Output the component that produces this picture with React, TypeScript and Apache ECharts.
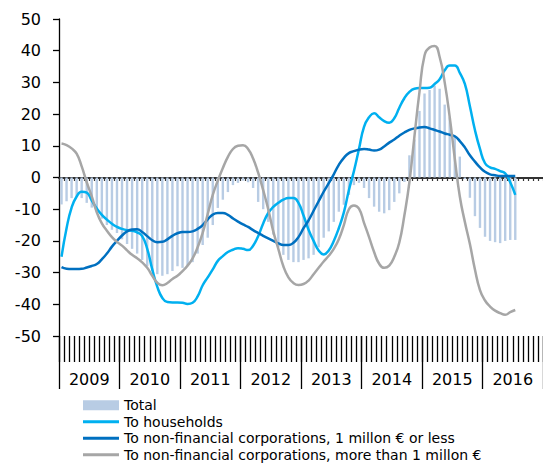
import React, { useEffect, useRef } from "react";
import * as echarts from "echarts";

const years = ["2009", "2010", "2011", "2012", "2013", "2014", "2015", "2016"];
const monthNames = ["Jan", "Feb", "Mar", "Apr", "May", "Jun", "Jul", "Aug", "Sep", "Oct", "Nov", "Dec"];
const months = years.flatMap((y) => monthNames.map((m) => `${m} ${y}`));

const total = [
  -8.5, -7.5, -6.5, -6, -6.5, -8, -9.5, -11, -13, -15, -16.5, -17.5,
  -19.5, -21, -22.5, -24, -26, -28, -29.5, -30.5, -31, -30.5, -29.5, -28,
  -28.5, -27.6, -26.7, -24, -21.3, -19, -15, -9.6, -7, -4.6, -2.4, -1.7,
  -1, -1.5, -3.3, -7.7, -10, -14, -18, -22, -24.4, -26, -26.7, -26.7,
  -26, -25.5, -24.4, -22, -19, -17, -14, -10.8, -8.6, -5.5, -2.4, -1.7,
  -3.3, -6.5, -9.2, -10.8, -11.3, -10.3, -7.7, -5, -1.4, 7, 12, 21,
  26.5, 27.6, 29, 28, 23, 19, 13, 6.6, -0.5, -6.4, -12.2, -15.9,
  -18.7, -20, -20.4, -20.7, -20, -19.7, -19.7,
];

const households = [
  -25, -16, -9.5, -6, -4.5, -4.8, -7.3, -9.8, -11.8, -13.3, -14.6, -15.6,
  -16.2, -16.6, -16.8, -17.3, -18.5, -22.5, -29, -34.5, -38, -39.3, -39.4, -39.4,
  -39.5, -39.9, -39.5, -37.5, -34, -31.5, -29, -26.3, -24.8, -23.5, -22.8, -22.3,
  -22.5, -22.9, -21.5, -18.5, -14.5, -11.2, -9.3, -8, -7, -6.5, -6.5, -8,
  -12, -16.5, -20, -23, -24.3, -23, -20, -16, -11, -4, 2, 9,
  16, 19, 20.3, 19, 17.8, 17.3, 18.7, 22, 25, 27, 28, 28.2,
  28.2, 28.3, 29.5, 31, 33.8, 35.3, 35.3, 33, 29.5, 22.5, 15, 9,
  4.5, 3.2, 2.7, 2, 1.3, -1.5, -5.5,
];

const nfcSmall = [
  -28.3, -28.8, -28.9, -28.9, -28.8, -28.4, -27.9, -27.3, -25.8, -24, -21.8, -20,
  -18.3, -17, -16.4, -16.3, -17.2, -18.5, -19.8, -20.4, -20.3, -19.5, -18.4, -17.6,
  -17.2, -17.2, -17, -16.2, -15, -13.2, -11.7, -11.2, -11.2, -11.8, -12.9, -13.9,
  -14.8, -15.6, -16.6, -17.5, -18.4, -19.2, -20, -20.8, -21.3, -21.3, -20.6, -18.8,
  -16, -13.5, -10.5, -7.5, -4.5, -1.8, 1, 4, 6.2, 7.7, 8.3, 8.8,
  9, 8.8, 8.5, 8.8, 9.8, 11, 12, 13.2, 14.2, 15, 15.5, 15.8,
  15.9, 15.5, 15, 14.5, 13.9, 13.5, 13, 11.5, 9.5, 7, 5, 3.2,
  1.8, 1, 0.7, 0.5, 0.5, 0.5, 0.5,
];

const nfcLarge = [
  10.7, 10.2, 9.2, 7.5, 3.5, -1.5, -6, -11, -14.5, -16.8, -18.8, -20.3,
  -21.5, -23, -24.4, -25.5, -26.8, -28.5, -31, -33.2, -34, -33.3, -32, -31,
  -29.5, -27.8, -25.5, -22, -17.5, -11.5, -5.5, -1, 3, 6.5, 9, 10,
  10.2, 9, 6, 1.5, -4, -10, -17, -22.5, -28, -31.5, -33.3, -33.9,
  -33.6, -32.5, -30.5, -28.5, -26.5, -24.7, -22.5, -19.5, -15, -10, -8.8, -9.8,
  -14.3, -18.8, -23.5, -27.2, -28.5, -27.8, -25, -20.5, -12, -1.5, 13, 27,
  38.5, 41, 41.5, 38, 30, 19, 6, -6, -14, -21, -29, -35.5,
  -38.8, -40.7, -42, -42.8, -43.3, -42.5, -41.8,
];

const seriesNames = [
  "Total",
  "To households",
  "To non-financial corporations, 1 millon € or less",
  "To non-financial corporations, more than 1 millon €",
];

const FONT = "DejaVu Sans";
const LINE_ICON = "path://M0,0 L36,0 L36,3 L0,3 Z";

export default function App() {
  const ref = useRef<HTMLDivElement>(null);
  useEffect(() => {
    const chart = echarts.init(ref.current!, null, { renderer: "svg" });
    chart.setOption({
      animation: false,
      backgroundColor: "#ffffff",
      textStyle: { fontFamily: FONT },
      grid: { left: 59, top: 19, width: 489, height: 317 },
      xAxis: [
        {
          type: "category",
          data: months,
          boundaryGap: true,
          axisLine: { show: true, onZero: true, lineStyle: { color: "#333333", width: 2 } },
          axisTick: { show: true, interval: 0, length: 3.5, lineStyle: { color: "#333333", width: 1.2 } },
          axisLabel: { show: false },
          splitLine: { show: false },
        },
        {
          type: "category",
          data: months,
          position: "bottom",
          boundaryGap: true,
          axisLine: { show: false, onZero: false },
          axisTick: { show: true, interval: 0, length: 26, lineStyle: { color: "#000000", width: 1.3 } },
          axisLabel: { show: false },
          splitLine: { show: false },
        },
        {
          type: "category",
          data: years,
          position: "bottom",
          boundaryGap: true,
          axisLine: { show: false, onZero: false },
          axisTick: { show: true, interval: 0, length: 53, lineStyle: { color: "#000000", width: 1.3 } },
          axisLabel: { show: true, interval: 0, margin: 35, fontSize: 16, color: "#000000", fontFamily: FONT },
          splitLine: { show: false },
        },
      ],
      yAxis: {
        type: "value",
        min: -50,
        max: 50,
        interval: 10,
        axisLine: { show: true, lineStyle: { color: "#000000", width: 1.3 } },
        axisTick: { show: true, length: 6, lineStyle: { color: "#000000", width: 1.3 } },
        axisLabel: { fontSize: 16, color: "#000000", margin: 18, fontFamily: FONT },
        splitLine: { show: false },
      },
      legend: {
        orient: "vertical",
        left: 83,
        top: 397,
        height: 120,
        width: 460,
        itemWidth: 36,
        itemHeight: 10,
        itemGap: 0,
        padding: 0,
        textStyle: { fontSize: 14, color: "#000000", lineHeight: 16.5, fontFamily: FONT },
        data: [
          { name: seriesNames[0], icon: "rect" },
          { name: seriesNames[1], icon: LINE_ICON },
          { name: seriesNames[2], icon: LINE_ICON },
          { name: seriesNames[3], icon: LINE_ICON },
        ],
      },
      series: [
        {
          name: seriesNames[0],
          type: "bar",
          data: total,
          barWidth: 2.4,
          itemStyle: { color: "#b8cce4" },
        },
        {
          name: seriesNames[1],
          type: "line",
          data: households,
          smooth: true,
          symbol: "none",
          lineStyle: { color: "#00b0f0", width: 2.5 },
          itemStyle: { color: "#00b0f0" },
        },
        {
          name: seriesNames[2],
          type: "line",
          data: nfcSmall,
          smooth: true,
          symbol: "none",
          lineStyle: { color: "#0070c0", width: 2.5 },
          itemStyle: { color: "#0070c0" },
        },
        {
          name: seriesNames[3],
          type: "line",
          data: nfcLarge,
          smooth: true,
          symbol: "none",
          lineStyle: { color: "#a6a6a6", width: 2.5 },
          itemStyle: { color: "#a6a6a6" },
        },
      ],
    });
    return () => chart.dispose();
  }, []);
  return (
    <div
      ref={ref}
      style={{ position: "fixed", left: 0, top: 0, width: 543, height: 464, background: "#ffffff" }}
    />
  );
}
